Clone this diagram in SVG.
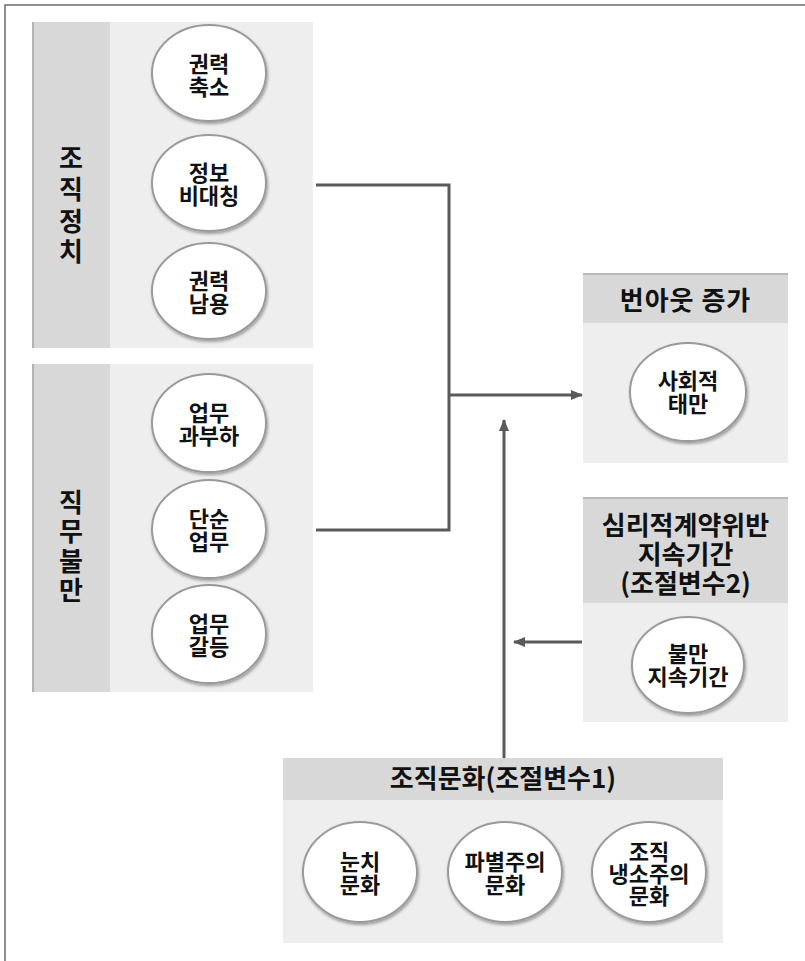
<svg xmlns="http://www.w3.org/2000/svg" width="805" height="961" viewBox="0 0 805 961">
<defs>
<style>
.strip{fill:#d8d8d8}
.stripEdge{stroke:#b4b4b4;stroke-width:2}
.body{fill:#eeeeee}
.head{fill:#d8d8d8}
.headEdge{stroke:#b8b8b8;stroke-width:2}
.node ellipse{fill:#ffffff;stroke:#9a9a9a;stroke-width:2;filter:url(#sh)}
text{font-family:"Noto Sans CJK KR","Noto Sans",sans-serif;font-weight:700;fill:#111;text-anchor:middle}
.t{font-size:22px}
.h{font-size:26px}
.v{font-size:26px}
.conn{fill:none;stroke:#5a5a5a;stroke-width:3}
</style>
<filter id="sh" x="-20%" y="-20%" width="140%" height="140%">
<feDropShadow dx="1" dy="2" stdDeviation="1.5" flood-color="#000" flood-opacity="0.35"/>
</filter>
<marker id="ah" viewBox="0 0 12 10" refX="11" refY="5" markerWidth="12" markerHeight="10" markerUnits="userSpaceOnUse" orient="auto">
<path d="M0,0 L12,5 L0,10 Z" fill="#5a5a5a"/>
</marker>
</defs>
<rect width="805" height="961" fill="#ffffff"/>
<path d="M5,961 V5 H805" fill="none" stroke="#6a6a6a" stroke-width="1.5"/>

<g id="panel-org-politics">
<rect class="body" x="110" y="22" width="203" height="326"/>
<rect class="strip" x="32" y="22" width="78" height="326"/>
<line class="stripEdge" x1="33" y1="22" x2="33" y2="348"/>
<text class="v"><tspan x="71" y="168">조</tspan><tspan x="71" y="199">직</tspan><tspan x="71" y="231">정</tspan><tspan x="71" y="261">치</tspan></text>
</g>
<g id="n-power-reduction" class="node">
<ellipse cx="209" cy="73" rx="57" ry="48"/>
<text class="t"><tspan x="209" y="72">권력</tspan><tspan x="209" y="95">축소</tspan></text>
</g>
<g id="n-info-asym" class="node">
<ellipse cx="209" cy="183" rx="57" ry="48"/>
<text class="t"><tspan x="209" y="181">정보</tspan><tspan x="209" y="204">비대칭</tspan></text>
</g>
<g id="n-power-abuse" class="node">
<ellipse cx="209" cy="291" rx="57" ry="48"/>
<text class="t"><tspan x="209" y="289">권력</tspan><tspan x="209" y="312">남용</tspan></text>
</g>

<g id="panel-job-dissatisfaction">
<rect class="body" x="110" y="364" width="203" height="328"/>
<rect class="strip" x="32" y="364" width="78" height="328"/>
<line class="stripEdge" x1="33" y1="364" x2="33" y2="692"/>
<text class="v"><tspan x="71" y="512">직</tspan><tspan x="71" y="541">무</tspan><tspan x="71" y="571">불</tspan><tspan x="71" y="600">만</tspan></text>
</g>
<g id="n-overload" class="node">
<ellipse cx="209" cy="423" rx="57" ry="49"/>
<text class="t"><tspan x="209" y="421">업무</tspan><tspan x="209" y="444">과부하</tspan></text>
</g>
<g id="n-simple-task" class="node">
<ellipse cx="209" cy="529" rx="57" ry="49"/>
<text class="t"><tspan x="209" y="527">단순</tspan><tspan x="209" y="550">업무</tspan></text>
</g>
<g id="n-task-conflict" class="node">
<ellipse cx="209" cy="634" rx="57" ry="49"/>
<text class="t"><tspan x="209" y="632">업무</tspan><tspan x="209" y="655">갈등</tspan></text>
</g>

<g id="panel-burnout">
<rect class="body" x="583" y="323" width="205" height="140"/>
<rect class="head" x="583" y="273" width="205" height="50"/>
<line class="headEdge" x1="583" y1="274" x2="788" y2="274"/>
<text class="h" x="685.5" y="310" letter-spacing="1">번아웃 증가</text>
</g>
<g id="n-social-loafing" class="node">
<ellipse cx="688" cy="392" rx="58" ry="49"/>
<text class="t"><tspan x="688" y="389">사회적</tspan><tspan x="688" y="412">태만</tspan></text>
</g>

<g id="panel-contract-breach">
<rect class="body" x="583" y="603" width="205" height="119"/>
<rect class="head" x="583" y="497" width="205" height="106"/>
<line class="headEdge" x1="583" y1="498" x2="788" y2="498"/>
<text class="h"><tspan x="685.5" y="535">심리적계약위반</tspan><tspan x="685.5" y="564">지속기간</tspan><tspan x="685.5" y="593">(조절변수2)</tspan></text>
</g>
<g id="n-dissat-duration" class="node">
<ellipse cx="688" cy="665" rx="56" ry="48"/>
<text class="t"><tspan x="688" y="662">불만</tspan><tspan x="688" y="685">지속기간</tspan></text>
</g>

<g id="panel-org-culture">
<rect class="body" x="283" y="800" width="440" height="143"/>
<rect class="head" x="283" y="758" width="440" height="42"/>
<text class="h" x="503" y="788">조직문화(조절변수1)</text>
</g>
<g id="n-nunchi" class="node">
<ellipse cx="360" cy="872" rx="57" ry="50"/>
<text class="t"><tspan x="360" y="870">눈치</tspan><tspan x="360" y="893">문화</tspan></text>
</g>
<g id="n-faction" class="node">
<ellipse cx="505" cy="872" rx="57" ry="50"/>
<text class="t"><tspan x="505" y="870">파별주의</tspan><tspan x="505" y="893">문화</tspan></text>
</g>
<g id="n-cynicism" class="node">
<ellipse cx="649" cy="872" rx="57" ry="50"/>
<text class="t"><tspan x="649" y="860">조직</tspan><tspan x="649" y="882">냉소주의</tspan><tspan x="649" y="904">문화</tspan></text>
</g>

<g id="connectors">
<polyline class="conn" points="316,185 449,185 449,530 316,530"/>
<line class="conn" x1="449" y1="395" x2="582" y2="395" marker-end="url(#ah)"/>
<line class="conn" x1="504" y1="758" x2="504" y2="420" marker-end="url(#ah)"/>
<line class="conn" x1="582" y1="642" x2="514" y2="642" marker-end="url(#ah)"/>
</g>
</svg>
